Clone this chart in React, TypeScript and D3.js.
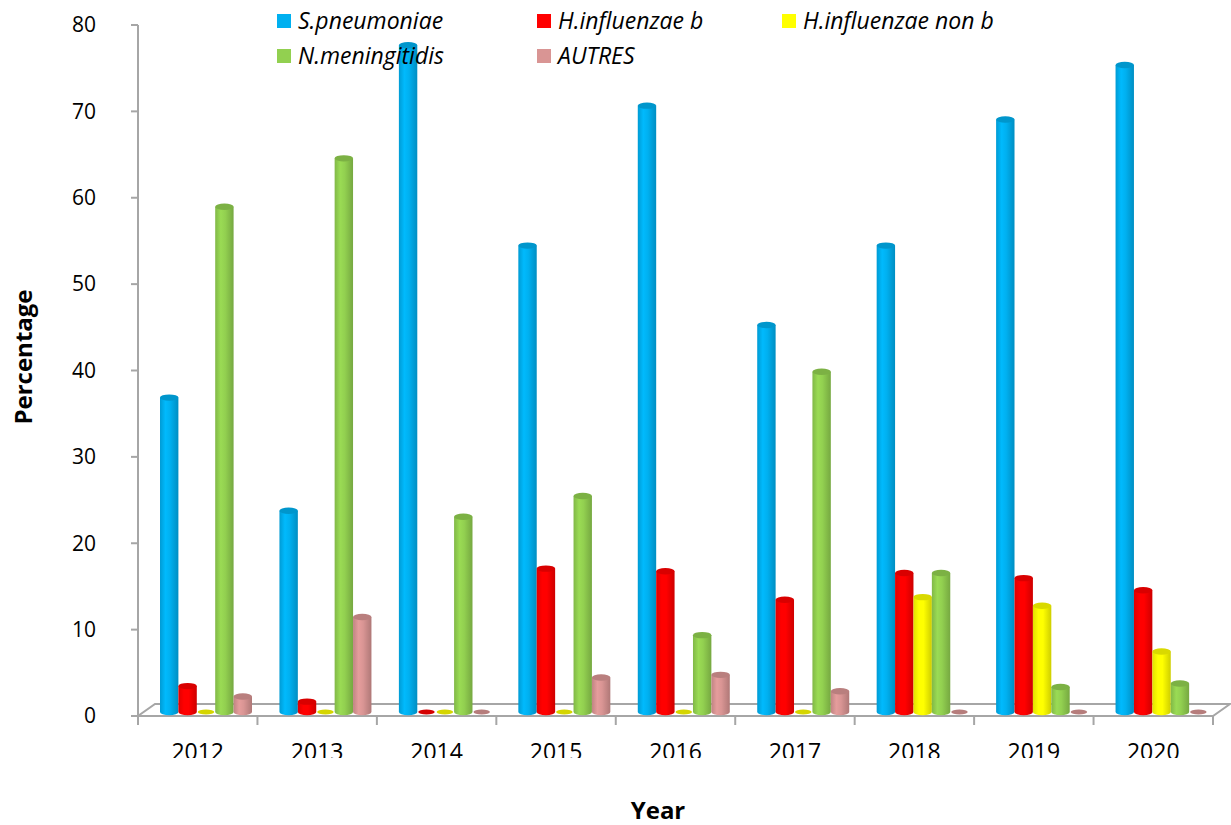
import React from "react";
import * as d3 from "d3";

const years = ["2012", "2013", "2014", "2015", "2016", "2017", "2018", "2019", "2020"];
const seriesNames = ["S.pneumoniae", "H.influenzae b", "H.influenzae non b", "N.meningitidis", "AUTRES"];
const seriesColors = ["#00B0F0", "#FF0000", "#FFFF00", "#92D050", "#D99594"];
const sPneumoniae = [36.4, 23.3, 77.2, 54.0, 70.2, 44.8, 54.0, 68.6, 74.9];
const hInfluenzaeB = [3.0, 1.2, 0, 16.6, 16.3, 13.0, 16.1, 15.5, 14.1];
const hInfluenzaeNonB = [0, 0, 0, 0, 0, 0, 13.3, 12.3, 7.0];
const nMeningitidis = [58.5, 64.1, 22.6, 25.0, 8.9, 39.4, 16.1, 2.9, 3.3];
const autres = [1.8, 11.0, 0, 4.0, 4.3, 2.4, 0, 0, 0];
const seriesValues = [sPneumoniae, hInfluenzaeB, hInfluenzaeNonB, nMeningitidis, autres];
const yTicks = [0, 10, 20, 30, 40, 50, 60, 70, 80];

const W = 1231, H = 825;
const axisX = 138, plotRight = 1213;
const depthX = 17, depthY = 12;
const font = "'Open Sans', 'Liberation Sans', sans-serif";

function shade(c: string, k: number) {
  const col = d3.color(c)!;
  return k > 0 ? col.brighter(k).formatHex() : col.darker(-k).formatHex();
}

export default function App() {
  const yFront = d3.scaleLinear().domain([0, 80]).range([716, 25]);
  const yMid = (v: number) => yFront(v) - depthY / 2 + 2;
  const x0 = d3.scaleBand().domain(years).range([axisX, plotRight]).paddingInner(0).paddingOuter(0);
  const x1 = d3.scaleBand().domain(seriesNames).range([22, 22 + 92]);
  const bw = x1.bandwidth();
  const ry = 3.2;

  return (
    <svg width={W} height={H} style={{ position: "absolute", left: 0, top: 0, background: "#fff" }} fontFamily={font}>
      <defs>
        {seriesColors.map((c, i) => (
          <linearGradient key={i} id={`g${i}`} x1="0" x2="1" y1="0" y2="0">
            <stop offset="0" stopColor={shade(c, -0.35)} />
            <stop offset="0.3" stopColor={shade(c, 0.15)} />
            <stop offset="0.55" stopColor={c} />
            <stop offset="1" stopColor={shade(c, -0.6)} />
          </linearGradient>
        ))}
        <clipPath id="xlabclip">
          <rect x={0} y={0} width={W} height={758} />
        </clipPath>
      </defs>

      {/* floor */}
      <polygon
        points={`${axisX},${yFront(0)} ${plotRight},${yFront(0)} ${plotRight + depthX},${yFront(0) - depthY} ${axisX + depthX},${yFront(0) - depthY}`}
        fill="#fff" stroke="#a6a6a6" strokeWidth={2}
      />
      {/* y axis */}
      <line x1={axisX} x2={axisX} y1={yFront(80)} y2={yFront(0)} stroke="#a6a6a6" strokeWidth={2} />
      {yTicks.map((t) => (
        <g key={t}>
          <line x1={axisX - 7} x2={axisX} y1={yFront(t)} y2={yFront(t)} stroke="#a6a6a6" strokeWidth={2} />
          <text x={axisX - 42} y={yFront(t)} dy="0.35em" textAnchor="end" fontSize={21} fill="#000">{t}</text>
        </g>
      ))}
      {/* x ticks */}
      {years.concat(["end"]).map((y, i) => {
        const xx = axisX + i * x0.bandwidth();
        return <line key={y} x1={xx} x2={xx} y1={yFront(0)} y2={yFront(0) + 9} stroke="#a6a6a6" strokeWidth={2} />;
      })}
      <g clipPath="url(#xlabclip)">
        {years.map((y) => (
          <text key={y} x={x0(y)! + x0.bandwidth() / 2} y={760} textAnchor="middle" fontSize={23} fill="#000">{y}</text>
        ))}
      </g>

      {/* bars */}
      {years.map((yr, i) => (
        <g key={yr}>
          {seriesNames.map((s, j) => {
            const v = seriesValues[j][i];
            const cx = x0(yr)! + x1(s)! + bw / 2;
            const yb = yMid(0);
            const yt = yMid(v);
            const c = seriesColors[j];
            if (v <= 0) {
              return <ellipse key={s} cx={cx} cy={yb} rx={bw / 2 - 1} ry={ry * 0.8} fill={shade(c, -0.5)} />;
            }
            return (
              <g key={s}>
                <path
                  d={`M${cx - bw / 2},${yt} L${cx - bw / 2},${yb} A${bw / 2},${ry} 0 0 0 ${cx + bw / 2},${yb} L${cx + bw / 2},${yt} Z`}
                  fill={`url(#g${j})`}
                />
                <ellipse cx={cx} cy={yt} rx={bw / 2} ry={ry} fill={shade(c, -0.45)} />
              </g>
            );
          })}
        </g>
      ))}

      {/* axis titles */}
      <text transform={`translate(24,357) rotate(-90)`} textAnchor="middle" dy="0.35em" fontSize={24} fontWeight="bold">Percentage</text>
      <text x={658} y={819} textAnchor="middle" fontSize={24} fontWeight="bold">Year</text>

      {/* legend */}
      {seriesNames.map((s, j) => {
        const pos = [[277, 21], [537, 21], [782, 21], [277, 56], [537, 56]][j];
        return (
          <g key={s}>
            <rect x={pos[0]} y={pos[1] - 7} width={14} height={14} fill={seriesColors[j]} />
            <text x={pos[0] + 21} y={pos[1]} dy="0.35em" fontSize={23} fontStyle="italic">{s}</text>
          </g>
        );
      })}
    </svg>
  );
}
